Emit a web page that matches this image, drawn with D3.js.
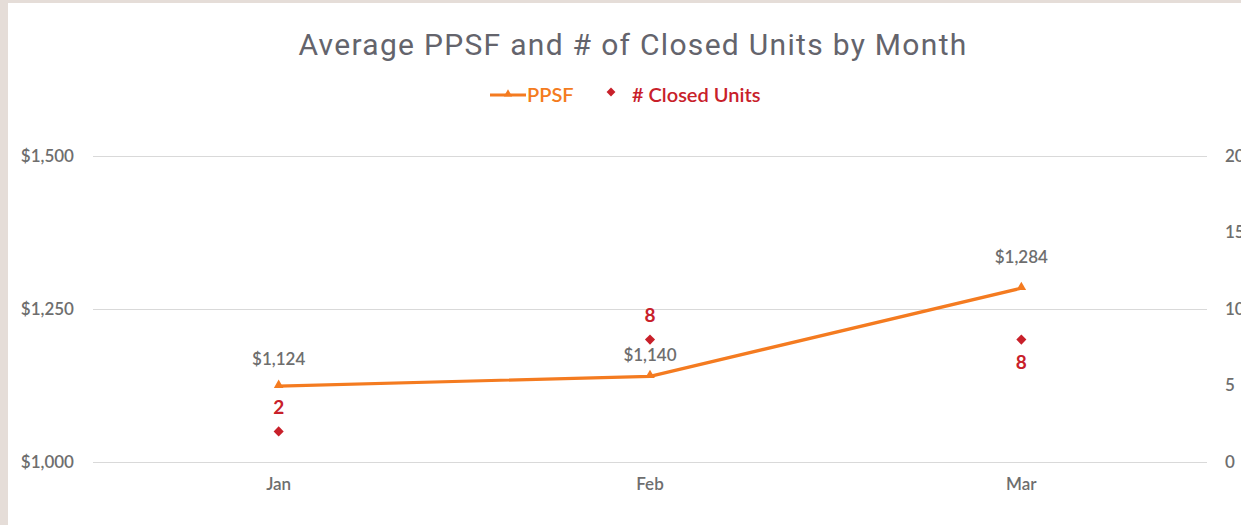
<!DOCTYPE html>
<html lang="en">
<head>
<meta charset="utf-8">
<title>Average PPSF and # of Closed Units by Month</title>
<style>
  body { margin: 0; background: #e5ddd8; }
  svg { display: block; }
  .grid line { stroke: #d9d9d9; stroke-width: 1; }
  .tick-label { font-family: Lato, "Open Sans", sans-serif; font-weight: 600; font-size: 17px; fill: #6e6e6e; }
  .title { font-family: Roboto, "Noto Sans", sans-serif; font-size: 30px; letter-spacing: 1.3px; fill: #64646c; }
</style>
<script src="https://cdnjs.cloudflare.com/ajax/libs/d3/7.8.5/d3.min.js"></script>
</head>
<body>
<svg width="1241" height="525"></svg>
<script>
// data
var months = ["Jan", "Feb", "Mar"];
var ppsf = [1124, 1140, 1284];
var closedUnits = [2, 8, 8];
var leftTicks = [1000, 1250, 1500];
var rightTicks = [0, 5, 10, 15, 20];
var unitLabelSide = ["above", "above", "below"];

var svg = d3.select("svg"),
    width = +svg.attr("width"),
    height = +svg.attr("height");

var orange = "#f47b20", red = "#c8202a";

// white chart area, beige frame on left / top
svg.append("rect")
    .attr("x", 8).attr("y", 3)
    .attr("width", width - 8).attr("height", height - 3)
    .attr("fill", "#fff");

var x = d3.scalePoint().domain(months).range([93, 1207]).padding(0.5);
var yL = d3.scaleLinear().domain([1000, 1500]).range([462, 156]);
var yR = d3.scaleLinear().domain([0, 20]).range([462, 156]);

// title
svg.append("text")
    .attr("class", "title")
    .attr("x", 633).attr("y", 55)
    .attr("text-anchor", "middle")
    .text("Average PPSF and # of Closed Units by Month");

// grid
svg.append("g").attr("class", "grid")
  .selectAll("line").data(leftTicks).enter().append("line")
    .attr("x1", 93).attr("x2", 1207)
    .attr("y1", function(d) { return Math.round(yL(d)) + 0.5; })
    .attr("y2", function(d) { return Math.round(yL(d)) + 0.5; });

// left axis labels
svg.append("g").selectAll("text").data(leftTicks).enter().append("text")
    .attr("class", "tick-label")
    .attr("x", 74).attr("y", function(d) { return yL(d); })
    .attr("dy", "0.35em")
    .attr("text-anchor", "end")
    .text(function(d) { return "$" + d3.format(",")(d); });

// right axis labels (cut off by the window edge, as in the original)
svg.append("g").selectAll("text").data(rightTicks).enter().append("text")
    .attr("class", "tick-label")
    .attr("x", 1225).attr("y", function(d) { return yR(d); })
    .attr("dy", "0.35em")
    .text(function(d) { return d; });

// x axis labels
svg.append("g").selectAll("text").data(months).enter().append("text")
    .attr("class", "tick-label")
    .attr("x", function(d) { return x(d); }).attr("y", 484)
    .attr("dy", "0.35em")
    .attr("text-anchor", "middle")
    .text(function(d) { return d; });

// PPSF line
var line = d3.line()
    .x(function(d, i) { return x(months[i]); })
    .y(function(d) { return yL(d); });

svg.append("path")
    .datum(ppsf)
    .attr("d", line)
    .attr("fill", "none")
    .attr("stroke", orange)
    .attr("stroke-width", 3.2)
    .attr("stroke-linejoin", "round");

var tri = d3.symbol().type(d3.symbolTriangle).size(40);
svg.append("g").selectAll("path").data(ppsf).enter().append("path")
    .attr("d", tri)
    .attr("fill", orange)
    .attr("transform", function(d, i) { return "translate(" + x(months[i]) + "," + (yL(d) - 1) + ")"; });

svg.append("g").selectAll("text").data(ppsf).enter().append("text")
    .attr("class", "tick-label")
    .attr("x", function(d, i) { return x(months[i]); })
    .attr("y", function(d, i) { return yL(d) - (i === 1 ? 21 : i === 2 ? 31 : 27); })
    .attr("dy", "0.35em")
    .attr("text-anchor", "middle")
    .text(function(d) { return "$" + d3.format(",")(d); });

// closed units
var diamond = d3.symbol().type(d3.symbolDiamond2).size(65);
svg.append("g").selectAll("path").data(closedUnits).enter().append("path")
    .attr("d", diamond)
    .attr("fill", red)
    .attr("transform", function(d, i) { return "translate(" + x(months[i]) + "," + yR(d) + ")"; });

svg.append("g").selectAll("text").data(closedUnits).enter().append("text")
    .attr("class", "tick-label")
    .style("fill", red).style("font-weight", 700).style("font-size", "19px")
    .attr("x", function(d, i) { return x(months[i]); })
    .attr("y", function(d, i) { return yR(d) + (unitLabelSide[i] === "above" ? -24 : 23); })
    .attr("dy", "0.35em")
    .attr("text-anchor", "middle")
    .text(function(d) { return d; });

// legend
var lg = svg.append("g").attr("transform", "translate(0,95)");
lg.append("line").attr("x1", 490).attr("x2", 526).attr("y1", 0).attr("y2", 0)
    .attr("stroke", orange).attr("stroke-width", 3);
lg.append("path").attr("d", d3.symbol().type(d3.symbolTriangle).size(30))
    .attr("fill", orange).attr("transform", "translate(508,-1)");
lg.append("text").attr("class", "tick-label")
    .style("fill", orange).style("font-size", "20px")
    .attr("x", 527).attr("y", 0).attr("dy", "0.35em").text("PPSF");
lg.append("path").attr("d", d3.symbol().type(d3.symbolDiamond2).size(50))
    .attr("fill", red).attr("transform", "translate(611,-3)");
lg.append("text").attr("class", "tick-label")
    .style("fill", red).style("font-size", "20px")
    .attr("x", 632).attr("y", 0).attr("dy", "0.35em").text("# Closed Units");
</script>
</body>
</html>
